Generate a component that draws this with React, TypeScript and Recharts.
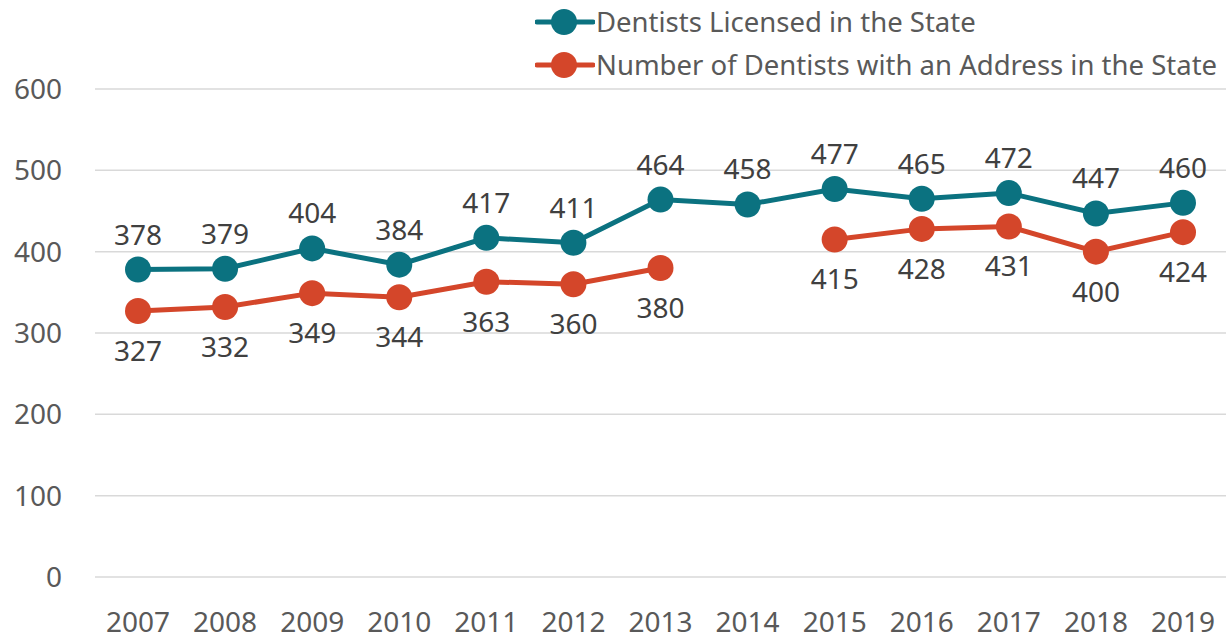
import { LineChart, Line, XAxis, YAxis, CartesianGrid, Legend, LabelList } from "recharts";

const years = ["2007", "2008", "2009", "2010", "2011", "2012", "2013", "2014", "2015", "2016", "2017", "2018", "2019"];
const licensed = [378, 379, 404, 384, 417, 411, 464, 458, 477, 465, 472, 447, 460];
const withAddress = [327, 332, 349, 344, 363, 360, 380, null, 415, 428, 431, 400, 424];
const yTicks = [0, 100, 200, 300, 400, 500, 600];

const TEAL = "#0b7280";
const ORANGE = "#d4462a";
const FONT = "'Noto Sans', 'Open Sans', sans-serif";

const data = years.map((year, i) => ({
  year,
  licensed: licensed[i],
  withAddress: withAddress[i],
}));

const series = [
  { key: "licensed", name: "Dentists Licensed in the State", color: TEAL },
  { key: "withAddress", name: "Number of Dentists with an Address in the State", color: ORANGE },
];

function ChartLegend() {
  return (
    <div style={{ height: 89, display: "flex", flexDirection: "column", alignItems: "flex-start", fontFamily: FONT }}>
      {series.map((s) => (
        <div key={s.key} style={{ display: "flex", alignItems: "center", height: 43 }}>
          <svg width={60} height={30} style={{ marginRight: 1 }}>
            <line x1={2} y1={15} x2={58} y2={15} stroke={s.color} strokeWidth={5} strokeLinecap="round" />
            <circle cx={29} cy={15} r={13} fill={s.color} />
          </svg>
          <span style={{ fontSize: 27.5, color: "#595959", whiteSpace: "nowrap" }}>{s.name}</span>
        </div>
      ))}
    </div>
  );
}

export default function App() {
  return (
    <div style={{ position: "absolute", left: 0, top: 0 }}>
      <LineChart width={1226} height={639} data={data} margin={{ top: 0, right: 0, bottom: 0, left: 0 }}>
        <CartesianGrid vertical={false} stroke="#d9d9d9" strokeWidth={1.5} />
        <XAxis
          dataKey="year"
          axisLine={false}
          tickLine={false}
          tickSize={0}
          tickMargin={35}
          height={62}
          padding={{ left: 43, right: 43 }}
          interval={0}
          tick={{ fill: "#595959", fontSize: 28, fontFamily: FONT }}
        />
        <YAxis
          domain={[0, 600]}
          ticks={yTicks}
          axisLine={false}
          tickLine={false}
          tickSize={0}
          tickMargin={33}
          width={95}
          tick={{ fill: "#595959", fontSize: 28, fontFamily: FONT }}
        />
        <Legend
          verticalAlign="top"
          align="right"
          layout="horizontal"
          content={() => <ChartLegend />}
          wrapperStyle={{ left: 535, width: 691 }}
        />
        <Line
          dataKey="licensed"
          name={series[0].name}
          stroke={TEAL}
          strokeWidth={5}
          dot={{ r: 13, fill: TEAL, stroke: TEAL, strokeWidth: 0 }}
          isAnimationActive={false}
        >
          <LabelList dataKey="licensed" position="top" offset={25} fill="#404040" fontSize={28} fontFamily={FONT} />
        </Line>
        <Line
          dataKey="withAddress"
          name={series[1].name}
          stroke={ORANGE}
          strokeWidth={5}
          dot={{ r: 13, fill: ORANGE, stroke: ORANGE, strokeWidth: 0 }}
          isAnimationActive={false}
        >
          <LabelList dataKey="withAddress" position="bottom" offset={30} fill="#404040" fontSize={28} fontFamily={FONT} />
        </Line>
      </LineChart>
    </div>
  );
}
